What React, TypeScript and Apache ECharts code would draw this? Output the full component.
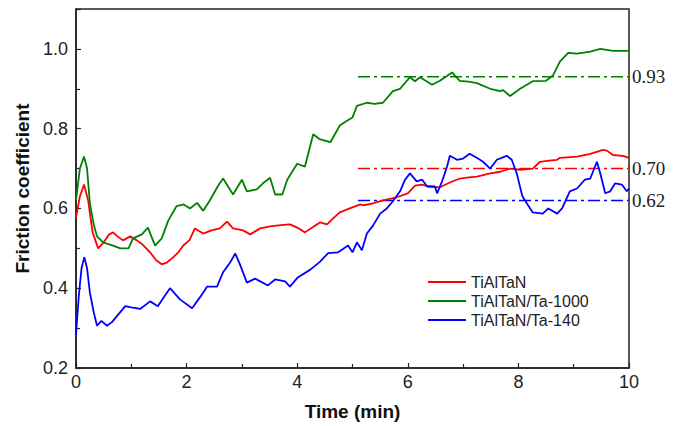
import React, { useEffect, useRef } from "react";
import * as echarts from "echarts";

const seriesNames = ["TiAlTaN", "TiAlTaN/Ta-1000", "TiAlTaN/Ta-140"];
const seriesColors = ["#ff0000", "#008000", "#0000ff"];

const redData: number[][] = [
  [0, 0.577], [0.07, 0.63], [0.145, 0.66], [0.22, 0.62], [0.3, 0.54], [0.4, 0.5], [0.5, 0.515],
  [0.6, 0.535], [0.67, 0.54], [0.75, 0.53], [0.85, 0.52], [0.98, 0.53], [1.1, 0.52], [1.2, 0.51],
  [1.34, 0.49], [1.45, 0.47], [1.55, 0.46], [1.65, 0.465], [1.76, 0.478], [1.85, 0.49], [1.94, 0.507],
  [2.05, 0.52], [2.15, 0.55], [2.3, 0.537], [2.45, 0.545], [2.6, 0.55], [2.73, 0.567], [2.84, 0.55],
  [3.02, 0.545], [3.15, 0.535], [3.33, 0.55], [3.51, 0.555], [3.7, 0.558], [3.87, 0.56], [4.0, 0.552],
  [4.14, 0.54], [4.3, 0.555], [4.41, 0.565], [4.54, 0.56], [4.65, 0.575], [4.77, 0.59], [4.95, 0.6],
  [5.14, 0.61], [5.2, 0.608], [5.35, 0.612], [5.55, 0.62], [5.8, 0.628], [6.0, 0.638], [6.13, 0.657],
  [6.25, 0.66], [6.4, 0.655], [6.58, 0.653], [6.76, 0.665], [6.94, 0.675], [7.1, 0.678], [7.25, 0.68],
  [7.49, 0.688], [7.67, 0.692], [7.85, 0.7], [8.03, 0.697], [8.26, 0.7], [8.39, 0.717], [8.55, 0.72],
  [8.7, 0.722], [8.75, 0.727], [9.06, 0.73], [9.3, 0.737], [9.53, 0.747], [9.6, 0.745], [9.71, 0.734],
  [9.89, 0.732], [10, 0.727],
];

const greenData: number[][] = [
  [0, 0.62], [0.07, 0.7], [0.145, 0.73], [0.2, 0.7], [0.25, 0.614], [0.32, 0.56], [0.38, 0.53],
  [0.49, 0.515], [0.67, 0.507], [0.8, 0.5], [0.95, 0.5], [1.03, 0.525], [1.19, 0.535], [1.3, 0.552],
  [1.43, 0.507], [1.55, 0.525], [1.67, 0.57], [1.82, 0.606], [1.95, 0.61], [2.06, 0.6], [2.19, 0.614],
  [2.3, 0.594], [2.42, 0.62], [2.57, 0.657], [2.66, 0.675], [2.75, 0.655], [2.84, 0.635], [3.0, 0.672],
  [3.09, 0.643], [3.27, 0.648], [3.38, 0.663], [3.51, 0.677], [3.6, 0.635], [3.73, 0.635], [3.82, 0.672],
  [3.9, 0.69], [4.0, 0.712], [4.14, 0.705], [4.23, 0.754], [4.29, 0.786], [4.4, 0.774], [4.6, 0.766],
  [4.77, 0.808], [4.9, 0.82], [5.0, 0.828], [5.08, 0.857], [5.26, 0.865], [5.4, 0.862], [5.55, 0.865],
  [5.73, 0.894], [5.86, 0.9], [6.04, 0.929], [6.13, 0.919], [6.22, 0.929], [6.44, 0.91], [6.58, 0.92],
  [6.8, 0.941], [6.94, 0.92], [7.1, 0.918], [7.25, 0.914], [7.49, 0.9], [7.67, 0.894], [7.72, 0.897],
  [7.85, 0.882], [8.03, 0.9], [8.26, 0.919], [8.5, 0.92], [8.63, 0.934], [8.75, 0.968], [8.9, 0.99],
  [9.06, 0.988], [9.3, 0.993], [9.48, 1.0], [9.71, 0.995], [9.96, 0.995], [10, 0.996],
];

const blueData: number[][] = [
  [0, 0.284], [0.05, 0.38], [0.1, 0.45], [0.15, 0.478], [0.2, 0.45], [0.25, 0.39], [0.32, 0.34],
  [0.38, 0.306], [0.46, 0.318], [0.56, 0.306], [0.65, 0.315], [0.74, 0.33], [0.89, 0.355], [1.0, 0.352],
  [1.16, 0.348], [1.34, 0.367], [1.48, 0.355], [1.6, 0.38], [1.7, 0.4], [1.88, 0.372], [2.1, 0.35],
  [2.24, 0.377], [2.37, 0.404], [2.55, 0.404], [2.66, 0.44], [2.78, 0.463], [2.88, 0.487], [2.97, 0.458],
  [3.09, 0.414], [3.24, 0.424], [3.47, 0.407], [3.6, 0.422], [3.78, 0.417], [3.87, 0.404], [4.01, 0.427],
  [4.23, 0.446], [4.41, 0.466], [4.56, 0.488], [4.74, 0.49], [4.92, 0.507], [5.0, 0.49], [5.08, 0.515],
  [5.17, 0.495], [5.26, 0.537], [5.37, 0.557], [5.5, 0.587], [5.62, 0.6], [5.73, 0.618], [5.86, 0.643],
  [5.95, 0.672], [6.04, 0.688], [6.16, 0.668], [6.26, 0.672], [6.35, 0.655], [6.49, 0.655], [6.53, 0.638],
  [6.62, 0.668], [6.71, 0.705], [6.76, 0.732], [6.89, 0.722], [7.0, 0.725], [7.12, 0.737], [7.27, 0.725],
  [7.36, 0.717], [7.49, 0.7], [7.61, 0.722], [7.79, 0.732], [7.88, 0.722], [7.97, 0.688], [8.07, 0.631],
  [8.16, 0.611], [8.26, 0.59], [8.44, 0.587], [8.54, 0.6], [8.7, 0.587], [8.79, 0.6], [8.93, 0.643],
  [9.06, 0.65], [9.2, 0.672], [9.3, 0.675], [9.42, 0.717], [9.48, 0.688], [9.57, 0.638], [9.66, 0.643],
  [9.75, 0.663], [9.87, 0.66], [9.96, 0.643], [10, 0.65],
];

const refValues = [0.7, 0.93, 0.62];
const refLabels = ["0.70", "0.93", "0.62"];
const refStartX = 5.1;
const refEndX = 10;

export default function App() {
  const ref = useRef<HTMLDivElement>(null);
  useEffect(() => {
    if (!ref.current) return;
    document.body.style.margin = "0";
    const chart = echarts.init(ref.current, undefined, { renderer: "svg" });
    const dataSets = [redData, greenData, blueData];
    const mainSeries = seriesNames.map((name, i) => ({
      name,
      type: "line",
      data: dataSets[i],
      symbol: "none",
      lineStyle: { color: seriesColors[i], width: 1.8 },
      itemStyle: { color: seriesColors[i] },
      z: 3,
    }));
    const refSeries = refValues.map((v, i) => ({
      name: "ref" + i,
      type: "line",
      data: [[refStartX, v], [refEndX, v]],
      symbol: "none",
      lineStyle: { color: seriesColors[i], width: 1.6, type: [12, 4, 3, 4] },
      z: 2,
      endLabel: {
        show: true,
        formatter: refLabels[i],
        fontFamily: "Liberation Serif",
        fontSize: 19,
        color: "#222",
        distance: 3,
      },
    }));
    chart.setOption({
      animation: false,
      backgroundColor: "#fff",
      grid: {
        left: 76,
        right: 51,
        top: 9,
        bottom: 51,
        show: true,
        borderColor: "#222",
        borderWidth: 1.5,
        backgroundColor: "transparent",
      },
      legend: {
        data: seriesNames,
        orient: "vertical",
        left: 428,
        top: 274,
        padding: 0,
        icon: "rect",
        itemWidth: 38,
        itemHeight: 2,
        itemGap: 3,
        textStyle: { fontFamily: "Liberation Sans", fontSize: 16, color: "#222" },
      },
      xAxis: {
        type: "value",
        min: 0,
        max: 10,
        interval: 2,
        name: "Time (min)",
        nameLocation: "middle",
        nameGap: 34,
        nameTextStyle: { fontFamily: "Liberation Sans", fontSize: 19, fontWeight: "bold", color: "#111" },
        axisLine: { show: true, lineStyle: { color: "#222", width: 1.5 } },
        axisTick: { show: true, inside: true, length: 5, lineStyle: { color: "#222", width: 1.2 } },
        minorTick: { show: true, splitNumber: 2, length: 4, lineStyle: { color: "#222", width: 1.2 } },
        axisLabel: { fontFamily: "Liberation Sans", fontSize: 18, color: "#222", margin: 5 },
        splitLine: { show: false },
      },
      yAxis: {
        type: "value",
        min: 0.2,
        max: 1.1,
        interval: 0.2,
        name: "Friction coefficient",
        nameLocation: "middle",
        nameGap: 43,
        nameTextStyle: { fontFamily: "Liberation Sans", fontSize: 19, fontWeight: "bold", color: "#111" },
        axisLine: { show: true, lineStyle: { color: "#222", width: 1.5 } },
        axisTick: { show: true, inside: true, length: 5, lineStyle: { color: "#222", width: 1.2 } },
        minorTick: { show: true, splitNumber: 2, length: 4, lineStyle: { color: "#222", width: 1.2 } },
        axisLabel: {
          fontFamily: "Liberation Sans",
          fontSize: 18,
          color: "#222",
          margin: 8,
          showMaxLabel: false,
          formatter: (v: number) => (Math.abs(v - 1.1) < 1e-6 ? "" : v.toFixed(1)),
        },
        splitLine: { show: false },
      },
      series: [...mainSeries, ...refSeries],
    });
    return () => chart.dispose();
  }, []);
  return <div ref={ref} style={{ width: 680, height: 426, position: "absolute", left: 0, top: 0 }} />;
}
